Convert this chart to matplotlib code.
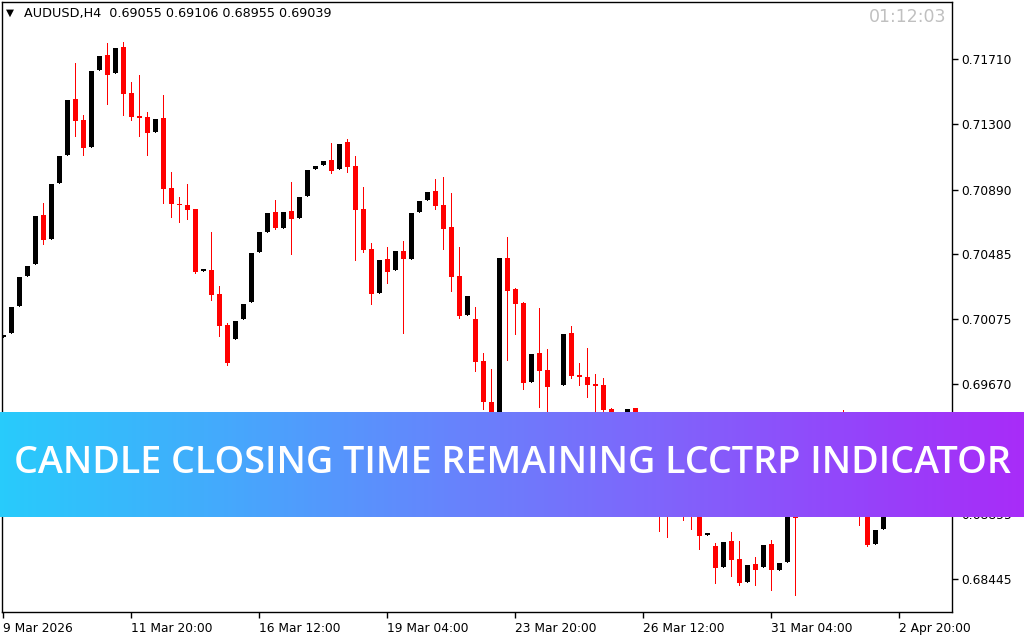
import numpy as np
import matplotlib
matplotlib.use("Agg")
import matplotlib.pyplot as plt
from matplotlib.colors import LinearSegmentedColormap

# AUDUSD H4 candles (bars under the banner are estimated)
opens = [0.69964, 0.69990, 0.70159, 0.70348, 0.70423, 0.70731, 0.70580, 0.70932, 0.71107, 0.71459,
         0.71327, 0.71157, 0.71641, 0.71735, 0.71622, 0.71785, 0.71497, 0.71352, 0.71346, 0.71252,
         0.71340, 0.70900, 0.70800, 0.70793, 0.70768, 0.70379, 0.70385, 0.70235, 0.70040, 0.69952,
         0.70078, 0.70184, 0.70498, 0.70624, 0.70749, 0.70649, 0.70756, 0.70712, 0.70850, 0.71019,
         0.71045, 0.71076, 0.71019, 0.71189, 0.71038, 0.70768, 0.70517, 0.70241, 0.70454, 0.70385,
         0.70504, 0.70454, 0.70749, 0.70825, 0.70881, 0.70793, 0.70655, 0.70348, 0.70103, 0.70078,
         0.69814, 0.69556, 0.69393, 0.70461, 0.70266, 0.70178, 0.69682, 0.69864, 0.69757, 0.69456,
         0.69663, 0.69990, 0.69726, 0.69713, 0.69669, 0.69663, 0.69512, 0.69393, 0.69412, 0.69519,
         0.69381, 0.69224, 0.69318, 0.68954, 0.68910, 0.69035, 0.68910, 0.68866, 0.68721, 0.68652,
         0.68520, 0.68684, 0.68571, 0.68426, 0.68539, 0.68520, 0.68665, 0.68502, 0.68552, 0.69098,
         0.68847, 0.69067, 0.68991, 0.69192, 0.69318, 0.69242, 0.69079, 0.68941, 0.68878, 0.68665,
         0.68759, 0.69055]
highs = [0.69977, 0.70153, 0.70341, 0.70410, 0.70724, 0.70806, 0.70925, 0.71101, 0.71453, 0.71685,
         0.71358, 0.71635, 0.71729, 0.71811, 0.71779, 0.71817, 0.71566, 0.71610, 0.71377, 0.71333,
         0.71484, 0.71001, 0.70844, 0.70925, 0.70768, 0.70391, 0.70624, 0.70285, 0.70052, 0.70065,
         0.70172, 0.70492, 0.70624, 0.70743, 0.70825, 0.70749, 0.70938, 0.70844, 0.71013, 0.71038,
         0.71070, 0.71183, 0.71176, 0.71208, 0.71101, 0.70906, 0.70555, 0.70448, 0.70530, 0.70504,
         0.70567, 0.70743, 0.70818, 0.70875, 0.70957, 0.70969, 0.70869, 0.70530, 0.70222, 0.70153,
         0.69864, 0.69764, 0.70461, 0.70592, 0.70272, 0.70184, 0.69858, 0.70147, 0.69889, 0.69475,
         0.69983, 0.70034, 0.69801, 0.69895, 0.69732, 0.69707, 0.69519, 0.69475, 0.69512, 0.69519,
         0.69443, 0.69349, 0.69368, 0.69129, 0.69079, 0.69098, 0.69004, 0.68941, 0.68734, 0.68671,
         0.68677, 0.68740, 0.68684, 0.68533, 0.68583, 0.68658, 0.68690, 0.68545, 0.69161, 0.69192,
         0.69098, 0.69117, 0.69224, 0.69381, 0.69412, 0.69506, 0.69129, 0.69004, 0.68928, 0.68753,
         0.69055, 0.69106]
lows = [0.69964, 0.69990, 0.70159, 0.70348, 0.70423, 0.70548, 0.70580, 0.70932, 0.71107, 0.71227,
        0.71107, 0.71157, 0.71641, 0.71428, 0.71622, 0.71358, 0.71327, 0.71227, 0.71107, 0.71252,
        0.70806, 0.70718, 0.70687, 0.70705, 0.70366, 0.70379, 0.70197, 0.69971, 0.69789, 0.69952,
        0.70078, 0.70184, 0.70498, 0.70624, 0.70643, 0.70649, 0.70486, 0.70712, 0.70850, 0.71019,
        0.71045, 0.70994, 0.71019, 0.71001, 0.70448, 0.70498, 0.70172, 0.70241, 0.70304, 0.70385,
        0.69990, 0.70454, 0.70749, 0.70825, 0.70768, 0.70517, 0.70253, 0.70084, 0.70103, 0.69751,
        0.69512, 0.69343, 0.69368, 0.69820, 0.69983, 0.69638, 0.69682, 0.69525, 0.69443, 0.69368,
        0.69663, 0.69707, 0.69663, 0.69588, 0.69456, 0.69468, 0.69381, 0.69368, 0.69412, 0.69330,
        0.69180, 0.69129, 0.68746, 0.68709, 0.68866, 0.68815, 0.68759, 0.68633, 0.68721, 0.68420,
        0.68520, 0.68464, 0.68407, 0.68426, 0.68407, 0.68520, 0.68376, 0.68502, 0.68552, 0.68345,
        0.68841, 0.68941, 0.68954, 0.69154, 0.69205, 0.69042, 0.68878, 0.68784, 0.68652, 0.68665,
        0.68759, 0.68955]
closes = [0.69977, 0.70153, 0.70341, 0.70410, 0.70724, 0.70574, 0.70925, 0.71101, 0.71453, 0.71321,
          0.71151, 0.71635, 0.71729, 0.71610, 0.71779, 0.71490, 0.71346, 0.71340, 0.71245, 0.71333,
          0.70894, 0.70800, 0.70793, 0.70762, 0.70373, 0.70391, 0.70228, 0.70034, 0.69801, 0.70065,
          0.70172, 0.70492, 0.70624, 0.70743, 0.70649, 0.70749, 0.70705, 0.70844, 0.71013, 0.71038,
          0.71070, 0.71007, 0.71176, 0.71032, 0.70762, 0.70511, 0.70235, 0.70448, 0.70373, 0.70504,
          0.70454, 0.70743, 0.70818, 0.70875, 0.70787, 0.70643, 0.70341, 0.70096, 0.70222, 0.69808,
          0.69556, 0.69393, 0.70461, 0.70253, 0.70172, 0.69676, 0.69858, 0.69751, 0.69651, 0.69393,
          0.69983, 0.69720, 0.69713, 0.69663, 0.69657, 0.69506, 0.69412, 0.69456, 0.69512, 0.69381,
          0.69224, 0.69318, 0.68941, 0.68878, 0.69035, 0.68910, 0.68866, 0.68715, 0.68734, 0.68514,
          0.68677, 0.68564, 0.68420, 0.68533, 0.68502, 0.68658, 0.68502, 0.68545, 0.69129, 0.68828,
          0.69067, 0.68991, 0.69192, 0.69318, 0.69242, 0.69079, 0.68941, 0.68866, 0.68658, 0.68753,
          0.69055, 0.69039]

# 0.69260 sits fully behind the banner in the reference, so it is left out
price_ticks = [0.71710, 0.71300, 0.70890, 0.70485, 0.70075, 0.69670, 0.68855, 0.68445]
date_ticks = [0, 16, 32, 48, 64, 80, 96, 112]
date_labels = ["9 Mar 2026", "11 Mar 20:00", "16 Mar 12:00", "19 Mar 04:00",
               "23 Mar 20:00", "26 Mar 12:00", "31 Mar 04:00", "2 Apr 20:00"]

header = "AUDUSD,H4  0.69055 0.69106 0.68955 0.69039"
timer = "01:12:03"
banner_text = "CANDLE CLOSING TIME REMAINING LCCTRP INDICATOR"

W, H = 1024, 640
fig = plt.figure(figsize=(W / 100, H / 100), dpi=100)
ax = fig.add_axes([2 / W, 28 / H, 950 / W, 610 / H])

o = np.array(opens)
h = np.array(highs)
l = np.array(lows)
c = np.array(closes)
x = np.arange(len(o))
colors = np.where(c < o, "#ff0000", "#000000")

px = 0.72  # one pixel in points
ax.vlines(x, l, h, colors=colors, linewidth=px, antialiased=False, zorder=2)
body = np.maximum(np.abs(c - o), 0.00007)
ax.bar(x, body, bottom=np.minimum(o, c), width=0.625, color=colors, linewidth=0,
       antialiased=False, zorder=3)

ax.set_xlim(-0.16, 118.6)
ax.set_ylim(0.68238, 0.72068)

for s in ax.spines.values():
    s.set_linewidth(1)
    s.set_color("black")

ax.yaxis.tick_right()
ax.set_yticks(price_ticks)
ax.set_yticklabels(["%.5f" % p for p in price_ticks])
ax.set_xticks(date_ticks)
ax.set_xticklabels(date_labels, ha="left")
ax.tick_params(axis="y", length=4, width=1, pad=3, labelsize=8.8)
ax.tick_params(axis="x", length=4, width=1, pad=3, labelsize=8.8)

fig.text(6 / W, 1 - 13 / H, "\u25bc", fontsize=7.5, va="center", ha="left")
fig.text(24 / W, 1 - 14 / H, header, fontsize=9.2, va="center", ha="left")
fig.text(946 / W, 1 - 17 / H, timer, fontsize=12.5, va="center", ha="right", color="#c0c0c0")

# gradient banner over the chart
bax = fig.add_axes([0, 123 / H, 1, 105 / H], zorder=5)
cmap = LinearSegmentedColormap.from_list("banner", [
    (0.0, "#28cbfb"), (0.2, "#42acfc"), (0.45, "#6882fc"),
    (0.65, "#8064fb"), (0.85, "#9642fa"), (1.0, "#a82cf8")])
bax.imshow(np.linspace(0, 1, 512).reshape(1, -1), cmap=cmap, aspect="auto", extent=(0, 1, 0, 1))
bax.set_xlim(0, 1)
bax.set_ylim(0, 1)
bax.axis("off")
t = bax.text(0.5, 0.515, banner_text, color="white", fontsize=24, fontfamily="Open Sans",
             fontweight="semibold", ha="center", va="center")
fig.canvas.draw()
w = t.get_window_extent().width
t.set_fontsize(24 * 1000 / w)

fig.savefig("out.png", dpi=100)
